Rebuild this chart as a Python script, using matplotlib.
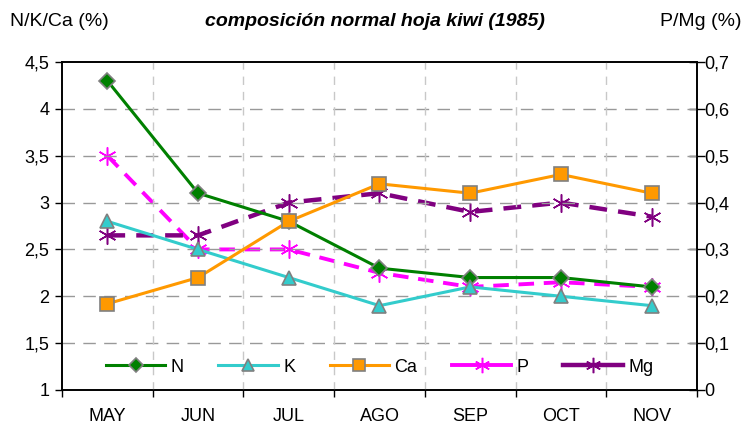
import matplotlib
matplotlib.use("Agg")
import matplotlib.pyplot as plt
from matplotlib.ticker import FuncFormatter, FixedLocator
from matplotlib.lines import Line2D

plt.rcParams['font.family'] = ['Liberation Sans', 'DejaVu Sans']

months = ["MAY", "JUN", "JUL", "AGO", "SEP", "OCT", "NOV"]
N = [4.3, 3.1, 2.8, 2.3, 2.2, 2.2, 2.1]
K = [2.8, 2.5, 2.2, 1.9, 2.1, 2.0, 1.9]
Ca = [1.92, 2.2, 2.8, 3.2, 3.1, 3.3, 3.1]
P = [0.50, 0.30, 0.30, 0.25, 0.22, 0.23, 0.22]
Mg = [0.33, 0.33, 0.40, 0.42, 0.38, 0.40, 0.37]

fig = plt.figure(figsize=(7.49, 4.28), dpi=100)
ax = fig.add_axes([62/749, 1-390/428, (697-62)/749, (390-62)/428])
ax2 = ax.twinx()

x = list(range(len(months)))
edge = '#808080'
lN, = ax.plot(x, N, color='#008000', lw=2.2, marker='D', ms=8, mfc='#008000', mec=edge, mew=1.2, label='N', zorder=5)
lK, = ax.plot(x, K, color='#33CCCC', lw=2.2, marker='^', ms=10, mfc='#33CCCC', mec=edge, mew=1.2, label='K', zorder=5)
lCa, = ax.plot(x, Ca, color='#FF9900', lw=2.2, marker='s', ms=10, mfc='#FF9900', mec=edge, mew=1.2, label='Ca', zorder=5)
lP, = ax2.plot(x, P, color='#FF00FF', lw=2.8, ls=(0, (4, 2.5)), marker=(6, 2, 0), ms=13, mew=1.1, mec='#FF00FF', label='P', zorder=5)
lMg, = ax2.plot(x, Mg, color='#800080', lw=3.2, ls=(0, (4, 2.5)), marker=(6, 2, 0), ms=13, mew=1.1, mec='#800080', label='Mg', zorder=5)

ax.set_xlim(-0.5, 6.5)
ax.set_ylim(1, 4.5)
ax2.set_ylim(0, 0.7)
ax.set_yticks([1, 1.5, 2, 2.5, 3, 3.5, 4, 4.5])
ax2.set_yticks([0, 0.1, 0.2, 0.3, 0.4, 0.5, 0.6, 0.7])

def fmt(v, pos):
    s = ('%g' % round(v, 2)).replace('.', ',')
    return s
ax.yaxis.set_major_formatter(FuncFormatter(fmt))
ax2.yaxis.set_major_formatter(FuncFormatter(fmt))

# x ticks at boundaries, labels at centers
ax.xaxis.set_major_locator(FixedLocator([i - 0.5 for i in range(8)]))
ax.xaxis.set_major_formatter(FuncFormatter(lambda v, p: ''))
ax.xaxis.set_minor_locator(FixedLocator(x))
ax.set_xticklabels(months, minor=True)
ax.tick_params(axis='x', which='minor', length=0, pad=13, labelsize=13)
ax.tick_params(axis='x', which='major', length=5, direction='out', width=1)
ax.tick_params(axis='y', length=5, width=1, labelsize=13, pad=4)
ax2.tick_params(axis='y', length=12, width=1, labelsize=13, pad=-1, direction='inout')

# gridlines
for yv in [1.5, 2, 2.5, 3, 3.5, 4]:
    ax.axhline(yv, color='#999999', lw=1, ls=(0, (9, 6)), zorder=1)
for xv in [0.5, 1.5, 2.5, 3.5, 4.5, 5.5]:
    ax.axvline(xv, color='#C8C8C8', lw=1, ls=(0, (6, 5)), zorder=1)

for a in (ax, ax2):
    for s in a.spines.values():
        s.set_linewidth(1.2)
        s.set_color('black')

ax.set_zorder(ax2.get_zorder() + 1)
ax.patch.set_visible(False)

def proxy(line):
    return Line2D([], [], color=line.get_color(), lw=line.get_linewidth(), ls='-',
                  marker=line.get_marker(), ms=line.get_markersize(),
                  mfc=line.get_markerfacecolor(), mec=line.get_markeredgecolor(),
                  mew=line.get_markeredgewidth(), label=line.get_label())

leg = ax.legend(handles=[proxy(l) for l in (lN, lK, lCa, lP, lMg)], loc='center',
                bbox_to_anchor=(0.5, 1 - (367-62)/328),
                ncol=5, frameon=False, fontsize=13, handlelength=3.3, columnspacing=1.9,
                handletextpad=0.3, markerscale=0.85)

fig.text(10/749, 1-22/428, 'N/K/Ca (%)', fontsize=14, va='center', ha='left')
fig.text(741/749, 1-22/428, 'P/Mg (%)', fontsize=14, va='center', ha='right')
fig.text(375/749, 1-22/428, 'composición normal hoja kiwi (1985)', fontsize=14,
         fontweight='bold', fontstyle='italic', va='center', ha='center')

fig.savefig('out.png', dpi=100)
